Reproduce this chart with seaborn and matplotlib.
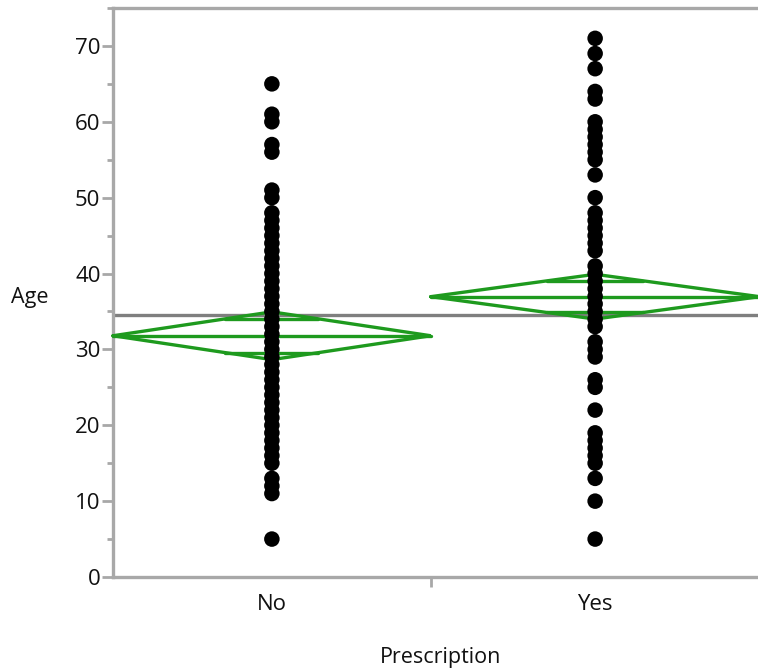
import numpy as np
import pandas as pd
import matplotlib
matplotlib.use("Agg")
import matplotlib.pyplot as plt
import seaborn as sns
from matplotlib.ticker import MultipleLocator

# ---------------- data ----------------
groups = ["No", "Yes"]
ages_no = [65, 61, 60, 57, 56, 51, 50, 48, 47, 46, 45, 44, 43, 42, 41, 40,
           39, 38, 37, 36, 35, 34, 33, 32, 31, 30, 29, 28, 27, 26, 25, 24,
           23, 22, 21, 20, 19, 18, 17, 16, 15, 13, 12, 11, 5]
ages_yes = [71, 69, 67, 64, 63, 60, 59, 58, 57, 56, 55, 53, 50, 48, 47, 46,
            45, 44, 43, 41, 40, 39, 38, 37, 36, 35, 34, 33, 31, 30, 29, 26,
            25, 22, 19, 18, 17, 16, 15, 13, 10, 5]
group_means = [31.8, 36.95]       # means diamond centres
group_ci_half = [3.15, 2.95]      # 95% CI half widths (diamond heights)
grand_mean = 34.5
group_share = [0.4915, 0.5085]    # relative x widths of groups (JMP style)

# ---------------- layout ----------------
W, H = 758, 672
fig = plt.figure(figsize=(W / 100, H / 100), dpi=100)
sns.set_theme(style="white")
plt.rcParams["font.family"] = ["Open Sans", "DejaVu Sans"]

ax = fig.add_axes([113 / W, (H - 577) / H, (W - 113) / W + 0.002, (577 - 8) / H])

# group spans on a 0..1 x scale
lefts = [0.0, group_share[0]]
rights = [group_share[0], group_share[0] + group_share[1]]
centers = [(l + r) / 2 for l, r in zip(lefts, rights)]

df = pd.DataFrame({
    "Prescription": ["No"] * len(ages_no) + ["Yes"] * len(ages_yes),
    "Age": ages_no + ages_yes,
})
df["x"] = df["Prescription"].map(dict(zip(groups, centers)))

green = "#1e9a1e"
grey_line = "#7f7f7f"
spine_c = "#a8a8a8"

# grand mean line
ax.axhline(grand_mean, color=grey_line, lw=2.4, zorder=2)

# means diamonds
lw_d = 2.4
for l, r, c, m, ci in zip(lefts, rights, centers, group_means, group_ci_half):
    ax.plot([l, c, r, c, l], [m, m + ci, m, m - ci, m], color=green, lw=lw_d,
            zorder=3, solid_joinstyle="miter", clip_on=False)
    ax.plot([l, r], [m, m], color=green, lw=lw_d, zorder=3, clip_on=False)
    half = (r - l) / 2
    d = ci / np.sqrt(2)
    hw = half * (1 - d / ci)
    for yy in (m + d, m - d):
        ax.plot([c - hw, c + hw], [yy, yy], color=green, lw=lw_d, zorder=3)

# points
sns.scatterplot(data=df, x="x", y="Age", ax=ax, color="black", s=125,
                edgecolor="none", linewidth=0, zorder=4, legend=False)

# axes
ax.set_xlim(0, 1.0)
ax.set_ylim(0, 75)
ax.yaxis.set_major_locator(MultipleLocator(10))
ax.yaxis.set_minor_locator(MultipleLocator(5))
ax.set_xticks(centers)
ax.set_xticklabels(groups)
ax.set_xticks([rights[0]], minor=True)

ax.tick_params(axis="y", which="major", length=8, width=2, color=spine_c,
               labelsize=16, pad=1, labelcolor="#111111", left=True)
ax.tick_params(axis="y", which="minor", length=4.5, width=2, color=spine_c, left=True)
ax.tick_params(axis="x", which="major", length=0, labelsize=16, pad=12,
               labelcolor="#111111", bottom=True)
ax.tick_params(axis="x", which="minor", length=7, width=2, color=spine_c, bottom=True)

for s in ["left", "bottom", "top"]:
    ax.spines[s].set_color(spine_c)
    ax.spines[s].set_linewidth(2.4)
ax.spines["right"].set_visible(False)

ax.set_ylabel("Age", rotation=0, fontsize=15.5, color="#111111", va="center", ha="center")
ax.yaxis.set_label_coords(-0.129, 0.492)
ax.set_xlabel("Prescription", fontsize=15.5, color="#111111", va="center")
ax.xaxis.set_label_coords(0.507, -0.141)

fig.savefig("out.png", dpi=100)
